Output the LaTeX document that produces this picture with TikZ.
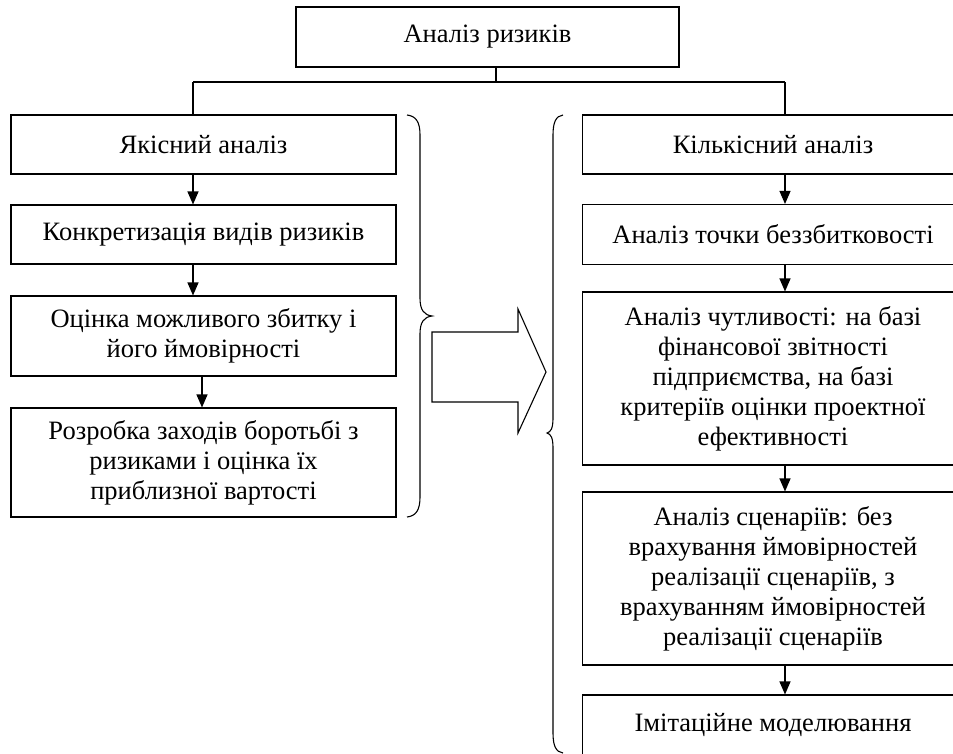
\documentclass[tikz,border=0pt]{standalone}
\usepackage{fontspec}
\setmainfont{Liberation Serif}
\usetikzlibrary{arrows.meta}

\begin{document}
\begin{tikzpicture}[x=1pt,y=-1pt,
    box/.style={draw,line width=1.1pt,inner sep=0pt,align=center,
        font=\fontsize{26.5}{30}\selectfont},
    lbox/.style={box,minimum width=385pt},
    rbox/.style={box,minimum width=381pt},
    line/.style={line width=1.1pt},
    arr/.style={line,-{Triangle[length=13pt,width=11pt]}}]
    \useasboundingbox (0,0) rectangle (953,753);
    \clip (0,0) rectangle (953,753);
    % top box and bar
    \node[box,minimum width=383pt,minimum height=60pt] (top) at (487.5,37) {Аналіз ризиків};
    \coordinate (tj) at (496,82);
    \coordinate (lj) at (193,82);
    \coordinate (lk) at (202,82);
    \coordinate (rj) at (785,82);
    % left column
    \node[lbox,minimum height=59pt] (l1) at (203.5,144.5) {Якісний аналіз};
    \node[lbox,minimum height=59pt] (l2) at (203.5,234.5) {Конкретизація видів ризиків};
    \node[lbox,minimum height=80pt] (l3) at (203.5,336) {Оцінка можливого збитку і\\ його ймовірності};
    \node[lbox,minimum height=109pt] (l4) at (203.5,462.5) {Розробка заходів боротьбі з\\ ризиками і оцінка їх\\ приблизної вартості};
    % right column
    \node[rbox,minimum height=59pt] (r1) at (773,144.5) {Кількісний аналіз};
    \node[rbox,minimum height=60pt] (r2) at (773,234.5) {Аналіз точки беззбитковості};
    \node[rbox,minimum height=173pt] (r3) at (773,378.5) {Аналіз чутливості: на базі\\ фінансової звітності\\ підприємства, на базі\\ критеріїв оцінки проектної\\ ефективності};
    \node[rbox,minimum height=173pt] (r4) at (773,578.5) {Аналіз сценаріїв: без\\ врахування ймовірностей\\ реалізації сценаріїв, з\\ врахуванням ймовірностей\\ реалізації сценаріїв};
    \node[rbox,minimum height=60pt] (r5) at (773,725) {Імітаційне моделювання};
    % connectors
    \draw[line] (tj |- top.south) -- (tj) (lj) -- (rj)
        (lj) -- (lj |- l1.north) (rj) -- (rj |- r1.north);
    \foreach \a/\b in {l1/l2,l2/l3}
        \draw[arr] (lj |- \a.south) -- (lj |- \b.north);
    \draw[arr] (lk |- l3.south) -- (lk |- l4.north);
    \foreach \a/\b in {r1/r2,r2/r3,r3/r4,r4/r5}
        \draw[arr] (rj |- \a.south) -- (rj |- \b.north);
    % braces
    \draw[line] (407,115) .. controls (416,116) and (420,122) .. (420,135) -- (420,298)
        .. controls (420,310) and (424,315) .. (432,316)
        .. controls (424,317) and (420,322) .. (420,334) -- (420,497)
        .. controls (420,510) and (416,516) .. (407,517);
    \draw[line] (563,115) .. controls (556,116) and (553,122) .. (553,135) -- (553,418)
        .. controls (553,428) and (551,432) .. (547,433)
        .. controls (551,434) and (553,438) .. (553,448) -- (553,733)
        .. controls (553,746) and (556,752) .. (563,753);
    % big arrow
    \draw[line] (432,332) -- (518,332) -- (518,309) -- (546,372) -- (518,433)
        -- (518,402) -- (432,402) -- cycle;
\end{tikzpicture}
\end{document}
